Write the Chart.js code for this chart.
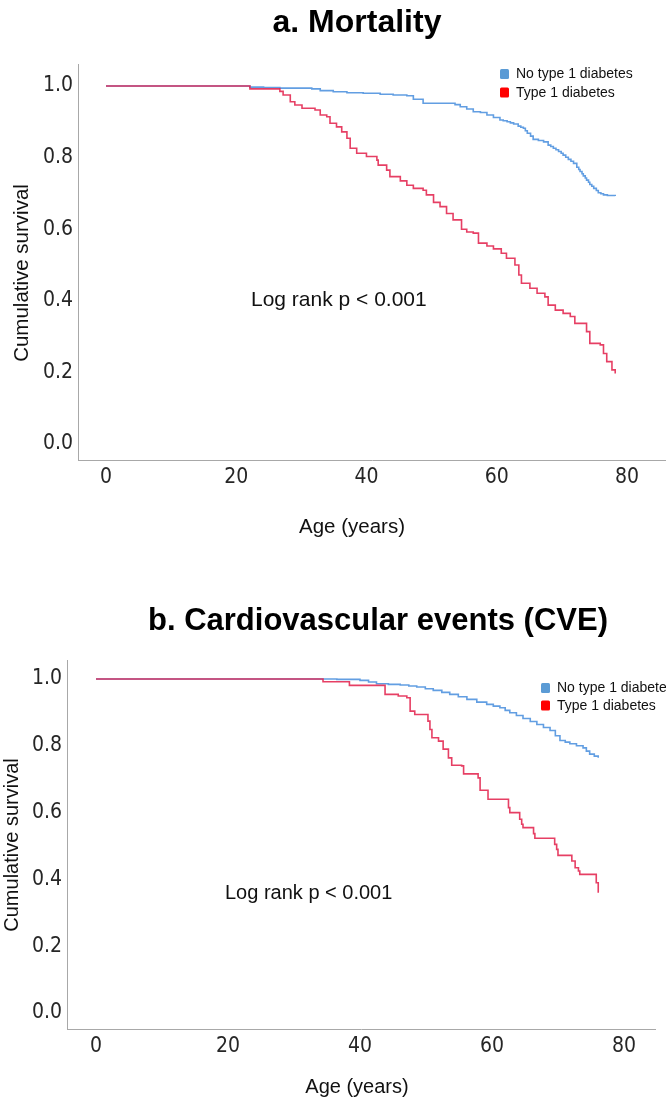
<!DOCTYPE html>
<html><head><meta charset="utf-8">
<script src="https://cdn.jsdelivr.net/npm/chart.js@4.4.1/dist/chart.umd.min.js"></script>
<style>
html,body{margin:0;padding:0;background:#fff;}
#wrap{position:relative;width:666px;height:1105px;overflow:hidden;background:#fff;}
.box{position:absolute;left:0;width:666px;}
canvas{display:block;}
</style></head><body>
<div id="wrap">
<div class="box" style="top:0;height:560px"><canvas id="c1" width="666" height="560"></canvas></div>
<div class="box" style="top:560px;height:545px"><canvas id="c2" width="666" height="545"></canvas></div>
</div>
<script>
// ---------- data ----------
const seriesNames = ['No type 1 diabetes', 'Type 1 diabetes'];
const xTicks = [0, 20, 40, 60, 80];
const yTicks = [0, 0.2, 0.4, 0.6, 0.8, 1.0];

// a. Mortality
const mortAgeNo  = [0, 20.6, 22.1, 24.2, 26.7, 31.6, 32.9, 34.9, 37.0, 39.5, 42.1, 44.1, 46.2, 47.2, 48.7, 52.8, 53.6, 54.4, 55.4, 56.4, 57.5, 58.5, 59.5, 60.5, 61.0, 61.6, 62.1, 62.6, 63.3, 63.7, 64.1, 64.4, 64.7, 65.2, 65.6, 66.4, 67.2, 67.9, 68.3, 68.7, 69.1, 69.5, 69.9, 70.2, 70.6, 71.0, 71.4, 71.8, 72.3, 72.6, 72.8, 73.1, 73.3, 73.6, 73.8, 74.1, 74.3, 74.6, 74.9, 75.3, 75.6, 76.0, 76.4, 77.0, 78.2];
const mortSurvNo = [1.0, 1.0, 0.997, 0.996, 0.994, 0.992, 0.987, 0.984, 0.981, 0.980, 0.977, 0.975, 0.973, 0.963, 0.952, 0.952, 0.948, 0.942, 0.936, 0.928, 0.926, 0.919, 0.912, 0.905, 0.903, 0.900, 0.897, 0.894, 0.888, 0.885, 0.882, 0.875, 0.868, 0.860, 0.851, 0.848, 0.844, 0.835, 0.831, 0.826, 0.822, 0.817, 0.812, 0.807, 0.801, 0.795, 0.790, 0.784, 0.773, 0.767, 0.761, 0.755, 0.749, 0.743, 0.737, 0.731, 0.725, 0.720, 0.714, 0.708, 0.702, 0.699, 0.696, 0.694, 0.693];
const mortAgeT1  = [0, 22.1, 26.7, 27.2, 28.3, 29.0, 30.1, 32.1, 32.9, 33.9, 34.4, 35.4, 36.2, 37.0, 37.5, 38.5, 40.0, 41.6, 41.8, 43.1, 43.6, 45.2, 46.2, 47.2, 48.7, 49.2, 50.3, 51.3, 52.3, 53.3, 54.6, 55.4, 56.4, 57.2, 58.5, 59.5, 60.7, 61.5, 62.8, 63.4, 63.8, 65.1, 66.2, 67.4, 67.9, 69.0, 70.2, 71.3, 72.0, 73.8, 74.3, 75.9, 76.4, 76.9, 77.7, 78.2];
const mortSurvT1 = [1.0, 0.992, 0.985, 0.975, 0.956, 0.947, 0.938, 0.933, 0.919, 0.914, 0.896, 0.886, 0.872, 0.854, 0.826, 0.812, 0.803, 0.793, 0.779, 0.765, 0.747, 0.735, 0.723, 0.714, 0.709, 0.696, 0.675, 0.663, 0.644, 0.626, 0.600, 0.592, 0.589, 0.561, 0.553, 0.545, 0.533, 0.519, 0.500, 0.472, 0.449, 0.435, 0.421, 0.411, 0.388, 0.374, 0.365, 0.356, 0.337, 0.314, 0.281, 0.277, 0.253, 0.230, 0.207, 0.197];

// b. Cardiovascular events
const cveAgeNo  = [0, 30.9, 36.5, 40.0, 41.3, 42.5, 44.3, 46.1, 47.4, 48.6, 49.9, 51.1, 52.4, 53.6, 54.9, 56.2, 57.7, 59.2, 60.2, 61.2, 62.0, 62.7, 63.7, 64.7, 65.8, 66.8, 67.8, 68.8, 69.6, 70.3, 71.1, 71.8, 72.8, 73.8, 74.3, 74.8, 75.5, 76.1];
const cveSurvNo = [1.0, 1.0, 0.999, 0.996, 0.991, 0.986, 0.984, 0.982, 0.979, 0.976, 0.971, 0.966, 0.960, 0.954, 0.947, 0.939, 0.931, 0.924, 0.919, 0.914, 0.906, 0.899, 0.891, 0.882, 0.873, 0.864, 0.855, 0.846, 0.830, 0.816, 0.811, 0.806, 0.800, 0.794, 0.784, 0.775, 0.769, 0.764];
const cveAgeT1  = [0, 34.4, 38.4, 43.8, 45.8, 47.1, 47.6, 48.3, 50.3, 50.6, 50.9, 51.9, 52.6, 53.4, 53.9, 55.4, 55.7, 57.9, 58.2, 59.4, 62.5, 62.7, 64.2, 64.5, 64.7, 66.3, 66.5, 69.5, 69.8, 70.0, 72.1, 72.6, 73.1, 73.3, 75.8, 76.1];
const cveSurvT1 = [1.0, 0.992, 0.981, 0.954, 0.949, 0.944, 0.904, 0.894, 0.874, 0.849, 0.824, 0.814, 0.790, 0.764, 0.742, 0.740, 0.716, 0.704, 0.667, 0.640, 0.615, 0.600, 0.580, 0.565, 0.555, 0.537, 0.523, 0.505, 0.490, 0.472, 0.455, 0.435, 0.425, 0.415, 0.390, 0.360];

// ---------- styles ----------
const BLUE_LINE = 'rgb(98,158,226)';
const RED_LINE = 'rgba(226,36,78,0.88)';
const BLUE_BOX = '#5b9bd5';
const RED_BOX = '#ff0000';
const SANS = "'Liberation Sans', Arial, sans-serif";
const NARROW = "'Liberation Sans Narrow', 'DejaVu Sans Condensed', sans-serif";

const overlayPlugin = {
  id: 'overlay',
  afterDraw(chart, args, o) {
    const ctx = chart.ctx;
    ctx.save();
    ctx.textBaseline = 'middle';
    ctx.fillStyle = '#000';
    ctx.font = o.titleFont;
    ctx.textAlign = 'center';
    ctx.fillText(o.title, o.titleX, o.titleY);
    ctx.fillStyle = '#111';
    ctx.font = o.axisTitleFont;
    ctx.fillText(o.xTitle, o.xTitleX, o.xTitleY);
    ctx.save();
    ctx.translate(o.yTitleX, o.yTitleY);
    ctx.rotate(-Math.PI / 2);
    ctx.fillText(o.yTitle, 0, 0);
    ctx.restore();
    ctx.font = o.noteFont;
    ctx.textAlign = 'left';
    ctx.fillText(o.note, o.noteX, o.noteY);
    ctx.font = o.legendFont;
    chart.data.datasets.forEach((ds, i) => {
      const cy = o.legY + i * o.legGap;
      ctx.fillStyle = ds.legendColor;
      ctx.beginPath();
      if (ctx.roundRect) ctx.roundRect(o.legX, cy - 5, 9, 10, 1.5); else ctx.rect(o.legX, cy - 5, 9, 10);
      ctx.fill();
      ctx.fillStyle = '#111';
      ctx.fillText(ds.label, o.legX + 16, cy + 0.5);
    });
    ctx.restore();
  }
};

function series(ages, surv) { return ages.map((a, i) => ({ x: a, y: surv[i] })); }

function buildChart(id, d) {
  return new Chart(document.getElementById(id), {
    type: 'line',
    data: {
      datasets: [
        { label: seriesNames[0], data: series(d.noA, d.noS), borderColor: BLUE_LINE, borderWidth: 1.6, pointRadius: 0, stepped: 'before', fill: false, order: 1, legendColor: BLUE_BOX },
        { label: seriesNames[1], data: series(d.t1A, d.t1S), borderColor: RED_LINE, borderWidth: 1.6, pointRadius: 0, stepped: 'before', fill: false, order: 0, legendColor: RED_BOX }
      ]
    },
    options: {
      responsive: false, animation: false, devicePixelRatio: 1,
      layout: { padding: { left: 0, right: d.padRight, top: d.padTop, bottom: d.padBottom } },
      plugins: {
        legend: { display: false }, title: { display: false }, tooltip: { enabled: false },
        overlay: d.overlay
      },
      scales: {
        x: {
          type: 'linear', min: d.xMin, max: d.xMax,
          afterBuildTicks: s => { s.ticks = xTicks.map(v => ({ value: v })); },
          afterFit: s => { s.height = d.xHeight; },
          grid: { display: false, drawTicks: false },
          border: { display: true, color: '#a8a8a8', width: 1 },
          ticks: { font: { family: NARROW, size: 21 }, color: '#262626', padding: 5, maxRotation: 0, autoSkip: false, callback: v => String(v) },
          title: { display: false, text: 'Age (years)' }
        },
        y: {
          type: 'linear', min: d.yMin, max: d.yMax,
          afterBuildTicks: s => { s.ticks = yTicks.map(v => ({ value: v })); },
          afterFit: s => { s.width = d.yWidth; },
          grid: { display: false, drawTicks: false },
          border: { display: true, color: '#a8a8a8', width: 1 },
          ticks: { font: { family: NARROW, size: 21 }, color: '#262626', padding: 5, autoSkip: false, callback: v => v.toFixed(1) },
          title: { display: false, text: 'Cumulative survival' }
        }
      }
    },
    plugins: [overlayPlugin]
  });
}

buildChart('c1', {
  noA: mortAgeNo, noS: mortSurvNo, t1A: mortAgeT1, t1S: mortSurvT1,
  padTop: 64, padBottom: 20, padRight: 0, xHeight: 80, yWidth: 78,
  xMin: -4.3, xMax: 86.0, yMin: -0.0447, yMax: 1.0615,
  overlay: {
    title: 'a. Mortality', titleFont: 'bold 32px ' + SANS, titleX: 357, titleY: 23,
    axisTitleFont: '20.5px ' + SANS,
    xTitle: 'Age (years)', xTitleX: 352, xTitleY: 527,
    yTitle: 'Cumulative survival', yTitleX: 22, yTitleY: 273,
    note: 'Log rank p < 0.001', noteFont: '21px ' + SANS, noteX: 251, noteY: 300,
    legendFont: '14px ' + SANS, legX: 500, legY: 74, legGap: 18.5
  }
});

buildChart('c2', {
  noA: cveAgeNo, noS: cveSurvNo, t1A: cveAgeT1, t1S: cveSurvT1,
  padTop: 100, padBottom: 4, padRight: 11, xHeight: 72, yWidth: 67,
  xMin: -4.39, xMax: 84.7, yMin: -0.048, yMax: 1.057,
  overlay: {
    title: 'b. Cardiovascular events (CVE)', titleFont: 'bold 31px ' + SANS, titleX: 378, titleY: 61,
    axisTitleFont: '20px ' + SANS,
    xTitle: 'Age (years)', xTitleX: 357, xTitleY: 527,
    yTitle: 'Cumulative survival', yTitleX: 12, yTitleY: 285,
    note: 'Log rank p < 0.001', noteFont: '20px ' + SANS, noteX: 225, noteY: 333,
    legendFont: '14px ' + SANS, legX: 541, legY: 128, legGap: 17.5
  }
});
</script>
</body></html>
